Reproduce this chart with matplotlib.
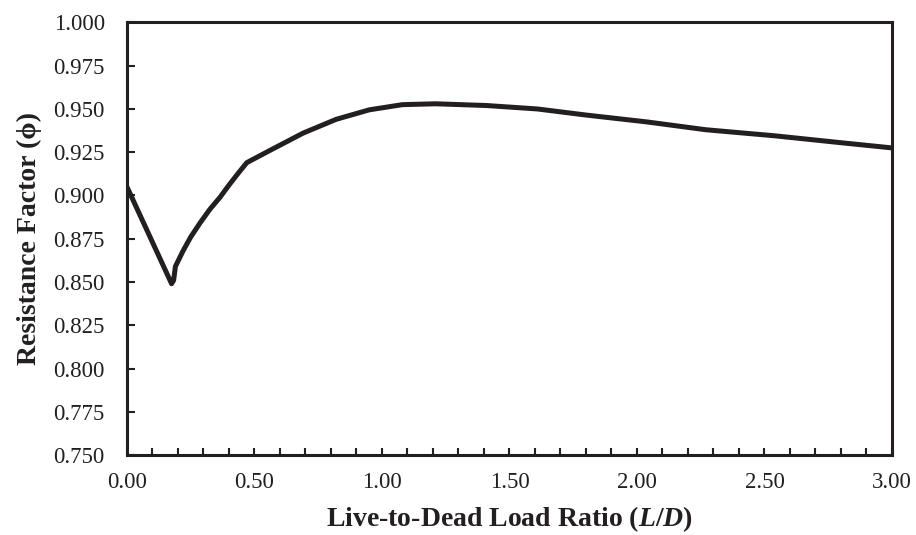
import matplotlib.pyplot as plt
from matplotlib.ticker import MultipleLocator, FormatStrFormatter

# L/D ratio vs resistance factor
ld_ratio = [0.0, 0.05, 0.10, 0.15, 0.175, 0.183, 0.19, 0.22, 0.25, 0.286, 0.325, 0.365,
            0.40, 0.437, 0.47, 0.56, 0.69, 0.82, 0.95, 1.08, 1.21, 1.41, 1.61, 1.80,
            2.04, 2.27, 2.54, 2.80, 3.0]
phi = [0.905, 0.889, 0.873, 0.857, 0.849, 0.851, 0.859, 0.868, 0.876, 0.884, 0.892, 0.899,
       0.906, 0.913, 0.919, 0.926, 0.936, 0.944, 0.9495, 0.9525, 0.953, 0.952, 0.950,
       0.9465, 0.9425, 0.938, 0.9345, 0.9305, 0.9275]

plt.rcParams['font.family'] = ['Liberation Serif', 'DejaVu Serif']
plt.rcParams['mathtext.fontset'] = 'custom'
plt.rcParams['mathtext.rm'] = 'Liberation Serif:bold'
plt.rcParams['mathtext.it'] = 'Liberation Serif:bold:italic'
plt.rcParams['mathtext.bf'] = 'Liberation Serif:bold'
plt.rcParams['mathtext.bfit'] = 'Liberation Serif:bold:italic'
ink = '#231f20'

fig = plt.figure(figsize=(9.16, 5.35), dpi=100)
ax = fig.add_axes([0.1386, 0.1495, 0.8352, 0.8085])

ax.plot(ld_ratio, phi, color=ink, lw=3.6, solid_joinstyle='round', solid_capstyle='butt')

ax.set_xlim(0, 3.0)
ax.set_ylim(0.75, 1.0)
ax.xaxis.set_major_locator(MultipleLocator(0.5))
ax.xaxis.set_minor_locator(MultipleLocator(0.1))
ax.yaxis.set_major_locator(MultipleLocator(0.025))
ax.xaxis.set_major_formatter(FormatStrFormatter('%.2f'))
ax.yaxis.set_major_formatter(FormatStrFormatter('%.3f'))

ax.tick_params(axis='x', which='both', direction='in', length=5, width=1.5,
               labelsize=16.5, pad=12, colors=ink, labelcolor=ink)
ax.tick_params(axis='y', which='major', direction='in', length=6, width=1.5,
               labelsize=16.5, pad=16, colors=ink, labelcolor=ink)
for s in ax.spines.values():
    s.set_linewidth(2.2)
    s.set_color(ink)

ax.set_xlabel('Live-to-Dead Load Ratio ($L$/$D$)', fontsize=20,
              fontweight='bold', color=ink, labelpad=8)
ax.set_ylabel('Resistance Factor (ϕ)', fontsize=20, fontweight='bold', color=ink,
              labelpad=8)

fig.savefig('out.png', dpi=100)
